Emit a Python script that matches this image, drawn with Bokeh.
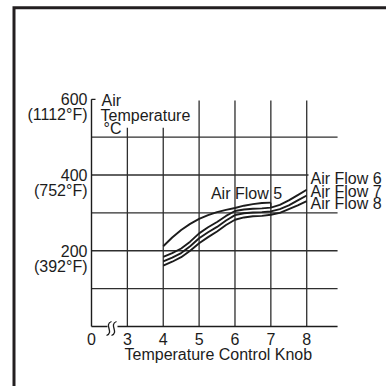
from bokeh.plotting import figure
from bokeh.embed import file_html
from bokeh.resources import INLINE
from bokeh.core.properties import value

# --- data -------------------------------------------------------------
knob = [4.0, 4.25, 4.5, 4.75, 5.0, 5.25, 5.5, 5.75, 6.0,
        6.25, 6.5, 6.75, 7.0, 7.25, 7.5, 7.75, 8.0]

# outlet air temperature (deg C) per air-flow setting
air_flow_5 = [212, 235, 255, 271, 284, 294, 302, 308, 313, 319, 323, 326, 327]
air_flow_6 = [184, 194, 206, 224, 246, 262, 276, 292, 305, 309, 311, 312, 314, 321, 333, 347, 361]
air_flow_7 = [172, 182, 194, 212, 233, 249, 263, 280, 294, 299, 301, 302, 304, 310, 320, 333, 346]
air_flow_8 = [161, 171, 183, 200, 220, 236, 251, 268, 282, 288, 291, 292, 295, 300, 310, 320, 331]

knob_ticks = [3, 4, 5, 6, 7, 8]
temp_ticks = [200, 400, 600]
temp_ticks_f = ["(392°F)", "(752°F)", "(1112°F)"]
grid_levels = [100, 200, 300, 400, 500]

# --- canvas geometry ---------------------------------------------------
W, H = 386, 386
AXIS_X = 2.0            # knob axis is broken: the "0" sits one step left of 3
PX_X0, PX_PER_KNOB = 91.0, 35.87
PX_Y0, PX_PER_DEG = 326.0, 0.3787
X_END = 8.86


def kx(px):
    return AXIS_X + (px - PX_X0) / PX_PER_KNOB


def ty(py):
    return (PX_Y0 - py) / PX_PER_DEG


p = figure(width=W, height=H, output_backend="svg", toolbar_location=None,
           x_range=(kx(0), kx(W)), y_range=(ty(H), ty(0)),
           x_axis_location=None, y_axis_location=None, min_border=0)
p.outline_line_color = None
p.xgrid.visible = False
p.ygrid.visible = False
p.background_fill_color = "white"
p.border_fill_color = "white"

INK = "#1c1c1c"
GRID = "#2e2e2e"
FONT = value("Liberation Sans")
FS = "16px"

# picture frame (left and top edges)
p.line([kx(13.5), kx(13.5), kx(W + 10)], [ty(H + 10), ty(7.3), ty(7.3)],
       line_color="#231f20", line_width=3, line_join="miter")

# horizontal grid
for lv in grid_levels:
    x_stop = kx(308) if lv == 400 else X_END
    p.line([AXIS_X, x_stop], [lv, lv], line_color=GRID, line_width=1.3)

# vertical grid (3 and 4 stop short to leave room for the axis title)
for k in knob_ticks:
    top = 525 if k in (3, 4) else 597
    p.line([k, k], [0, top], line_color=GRID, line_width=1.3)

# axes
p.line([AXIS_X, AXIS_X], [0, 600], line_color=INK, line_width=1.4)
p.line([AXIS_X, kx(95)], [600, 600], line_color=INK, line_width=1.2)
p.line([AXIS_X, kx(107)], [0, 0], line_color=INK, line_width=1.4)
p.line([kx(117), X_END], [0, 0], line_color=INK, line_width=1.4)

# axis break marks (two small S-shaped squiggles)
for dx in (0, 5):
    p.bezier(x0=[kx(106 + dx)], y0=[ty(335)], x1=[kx(111 + dx)], y1=[ty(321)],
             cx0=[kx(114 + dx)], cy0=[ty(332)], cx1=[kx(103 + dx)], cy1=[ty(324)],
             line_color=INK, line_width=1.3)

# curves
p.line(knob[:len(air_flow_5)], air_flow_5, line_color=INK, line_width=1.9)
p.line([7, 7], [air_flow_5[-1], air_flow_6[12]], line_color=INK, line_width=1.3)
for series in (air_flow_6, air_flow_7, air_flow_8):
    p.line(knob, series, line_color=INK, line_width=1.9)

# y tick labels
for t, f in zip(temp_ticks, temp_ticks_f):
    p.text(x=[kx(87)], y=[t], text=[str(t)], text_align="right",
           text_baseline="middle", text_font=FONT, text_font_size=FS, text_color=INK)
    p.text(x=[kx(87)], y=[t - 41], text=[f], text_align="right",
           text_baseline="middle", text_font=FONT, text_font_size=FS, text_color=INK)

# y axis title
p.text(x=[kx(101), kx(100), kx(103)], y=[ty(99.5), ty(114.5), ty(127.5)],
       text=["Air", "Temperature", "°C"], text_align="left",
       text_baseline="middle", text_font=FONT, text_font_size=FS, text_color=INK)

# x tick labels
p.text(x=[AXIS_X] + knob_ticks, y=[ty(338)] * (len(knob_ticks) + 1),
       text=["0"] + [str(k) for k in knob_ticks], text_align="center",
       text_baseline="middle", text_font=FONT, text_font_size=FS, text_color=INK)
p.text(x=[kx(124)], y=[ty(354)], text=["Temperature Control Knob"],
       text_align="left", text_baseline="middle", text_font=FONT,
       text_font_size=FS, text_color=INK)

# series labels
p.text(x=[kx(246)], y=[ty(192.7)], text=["Air Flow 5"], text_align="center",
       text_baseline="middle", text_font=FONT, text_font_size=FS, text_color=INK)
p.text(x=[kx(310)] * 3, y=[ty(178.3), ty(190.7), ty(203.3)],
       text=["Air Flow 6", "Air Flow 7", "Air Flow 8"], text_align="left",
       text_baseline="middle", text_font=FONT, text_font_size=FS, text_color=INK)

open("out.html", "w").write(file_html(p, INLINE))
